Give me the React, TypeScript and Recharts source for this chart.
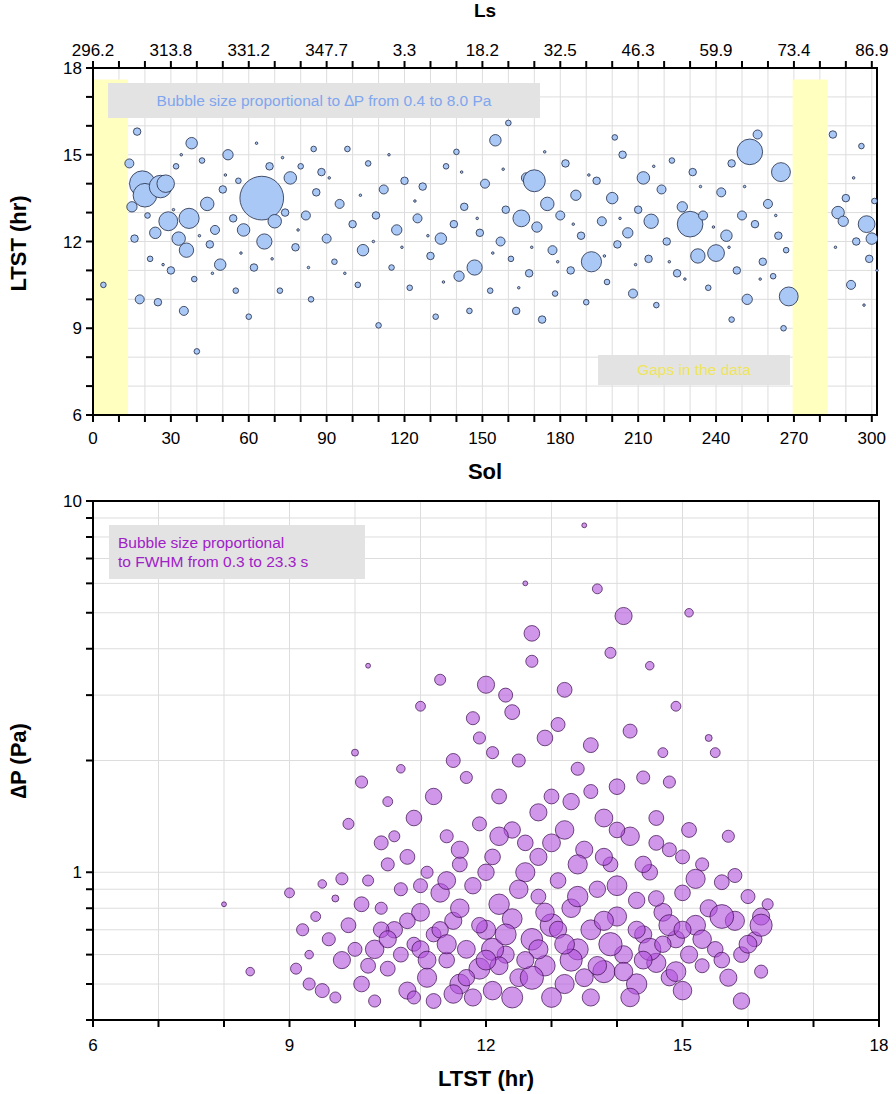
import React from 'react';
import { CartesianGrid, ReferenceArea, Scatter, ScatterChart, XAxis, YAxis, ZAxis } from 'recharts';

// top panel: [sol, LTST, dP]
const solEvents: [number, number, number][] = [
  [4, 10.5, 0.5], [14, 14.7, 0.7], [15, 13.2, 0.8], [16, 12.1, 0.6], [17, 15.8, 0.6], [18, 10.0, 0.7],
  [19, 14.0, 3.0], [20, 13.6, 2.6], [22, 11.4, 0.5], [24, 12.3, 0.9], [26, 13.9, 2.4], [28, 14.0, 1.6],
  [29, 12.7, 1.8], [30, 11.0, 0.6], [32, 14.6, 0.5], [33, 12.1, 1.1], [35, 9.6, 0.7], [36, 11.7, 1.2],
  [37, 12.8, 2.0], [38, 15.4, 0.9], [39, 10.7, 0.5], [40, 8.2, 0.5], [42, 14.8, 0.5], [44, 13.3, 1.1],
  [45, 11.9, 0.6], [47, 12.4, 0.7], [49, 11.2, 0.9], [50, 13.8, 0.6], [52, 15.0, 0.8], [54, 12.8, 0.6],
  [56, 14.1, 0.5], [58, 12.4, 1.0], [60, 9.4, 0.5], [62, 11.1, 0.6], [65, 13.5, 8.0], [66, 12.0, 1.3],
  [68, 14.6, 0.6], [70, 12.7, 1.1], [72, 10.3, 0.5], [74, 13.0, 0.6], [76, 14.2, 1.0], [78, 11.8, 0.6],
  [80, 14.6, 0.5], [82, 12.9, 0.7], [84, 10.0, 0.5], [86, 13.7, 0.6], [88, 14.4, 0.6], [90, 12.1, 0.7],
  [93, 11.3, 0.5], [95, 13.3, 0.7], [98, 15.2, 0.5], [100, 12.6, 0.6], [102, 10.5, 0.5], [104, 11.7, 0.9],
  [106, 14.7, 0.5], [109, 12.9, 0.6], [112, 13.8, 0.7], [115, 11.1, 0.5], [117, 12.4, 0.8], [120, 14.1, 0.6],
  [122, 10.4, 0.5], [125, 12.8, 0.7], [127, 13.9, 0.6], [130, 11.5, 0.6], [132, 9.4, 0.5], [134, 12.1, 0.9],
  [136, 14.6, 0.5], [139, 12.6, 0.6], [141, 10.8, 0.8], [143, 13.2, 0.6], [145, 9.6, 0.5], [147, 11.1, 1.3],
  [149, 12.3, 0.6], [151, 14.0, 0.7], [153, 10.3, 0.5], [155, 15.5, 0.9], [157, 12.0, 0.7], [159, 13.1, 0.6],
  [161, 11.4, 0.5], [163, 9.6, 0.6], [165, 12.8, 1.5], [167, 14.2, 0.8], [168, 10.9, 0.6], [170, 14.1, 2.3],
  [171, 12.5, 0.8], [173, 9.3, 0.6], [175, 13.3, 1.1], [177, 11.7, 0.7], [178, 10.2, 0.5], [180, 12.9, 0.7],
  [182, 14.7, 0.6], [184, 11.0, 0.6], [186, 13.6, 0.8], [188, 12.2, 0.6], [190, 9.9, 0.5], [192, 11.3, 2.0],
  [194, 14.1, 0.6], [196, 12.7, 0.7], [198, 10.6, 0.5], [200, 13.5, 0.9], [202, 11.9, 0.6], [204, 15.0, 0.6],
  [206, 12.3, 0.8], [208, 10.2, 0.7], [210, 13.1, 0.6], [212, 14.2, 1.0], [214, 11.4, 0.6], [215, 12.7, 1.2],
  [217, 9.8, 0.5], [219, 13.8, 0.7], [221, 12.0, 0.6], [223, 14.8, 0.5], [225, 10.9, 0.6], [227, 13.2, 0.8],
  [230, 12.6, 3.0], [231, 14.4, 0.6], [233, 11.5, 1.2], [235, 12.9, 0.7], [237, 10.4, 0.5], [240, 11.6, 1.5],
  [242, 13.7, 0.7], [244, 12.2, 0.9], [246, 14.7, 0.6], [248, 11.0, 0.6], [250, 12.9, 0.7], [252, 10.0, 0.8],
  [253, 15.1, 3.0], [255, 12.6, 0.6], [256, 15.7, 0.7], [258, 11.3, 0.6], [260, 13.3, 0.7], [262, 10.8, 0.5],
  [264, 12.2, 0.6], [265, 14.4, 1.8], [267, 11.7, 0.5], [268, 10.1, 1.8], [266, 9.0, 0.5], [285, 15.7, 0.6],
  [287, 13.0, 1.0], [289, 12.7, 0.8], [290, 13.5, 0.6], [292, 10.5, 0.7], [294, 12.0, 0.6], [296, 15.3, 0.5],
  [298, 12.6, 1.5], [299, 11.4, 0.6], [300, 12.1, 0.9], [301, 13.4, 0.5], [160, 16.1, 0.5], [110, 9.1, 0.5],
  [55, 10.3, 0.5], [25, 9.9, 0.6], [140, 15.1, 0.5], [246, 9.3, 0.5], [201, 15.6, 0.5], [85, 15.2, 0.5],
  [21, 12.9, 0.5], [27, 11.2, 0.4], [31, 13.1, 0.4], [34, 15.0, 0.4], [41, 12.2, 0.4], [46, 10.9, 0.4],
  [51, 14.3, 0.4], [57, 11.6, 0.4], [63, 15.4, 0.4], [69, 11.4, 0.4], [73, 14.9, 0.4], [79, 12.4, 0.4],
  [83, 11.1, 0.4], [91, 14.2, 0.4], [97, 10.9, 0.4], [103, 13.6, 0.4], [108, 12.0, 0.4], [114, 15.0, 0.4],
  [119, 11.8, 0.4], [124, 13.4, 0.4], [129, 12.2, 0.4], [135, 10.6, 0.4], [142, 14.4, 0.4], [148, 12.8, 0.4],
  [154, 11.6, 0.4], [158, 14.5, 0.4], [164, 10.4, 0.4], [169, 11.8, 0.4], [174, 15.1, 0.4], [179, 11.3, 0.4],
  [185, 12.6, 0.4], [191, 14.3, 0.4], [197, 11.5, 0.4], [203, 12.8, 0.4], [209, 11.2, 0.4], [216, 14.6, 0.4],
  [222, 11.3, 0.4], [228, 10.7, 0.4], [234, 13.9, 0.4], [239, 12.5, 0.4], [245, 11.8, 0.4], [251, 13.9, 0.4],
  [257, 10.7, 0.4], [263, 12.9, 0.4], [286, 11.8, 0.4], [293, 14.2, 0.4], [297, 9.8, 0.4], [302, 11.0, 0.4],
];

// bottom panel: [LTST, dP, FWHM]
const ltstEvents: [number, number, number][] = [
  [8.0, 0.82, 1], [8.4, 0.54, 3], [9.0, 0.88, 4], [9.1, 0.55, 5], [9.2, 0.70, 6], [9.3, 0.60, 3], [9.4, 0.76, 4],
  [9.5, 0.48, 8], [9.6, 0.66, 7], [9.7, 0.85, 2], [9.8, 0.58, 12], [9.9, 1.35, 5], [9.9, 0.72, 9], [10.0, 2.1, 2],
  [10.1, 1.75, 6], [10.1, 0.50, 10], [10.2, 0.95, 5], [10.2, 3.6, 1], [10.3, 0.62, 14], [10.4, 1.2, 8], [10.4, 0.80, 6],
  [10.5, 0.55, 9], [10.5, 1.55, 4], [10.6, 0.70, 11], [10.7, 0.90, 7], [10.7, 1.9, 3], [10.8, 0.48, 12], [10.8, 1.1, 9],
  [10.9, 0.64, 8], [10.9, 1.4, 10], [11.0, 0.78, 13], [11.0, 2.8, 4], [11.1, 0.52, 15], [11.1, 1.0, 6], [11.2, 1.6, 11],
  [11.2, 0.68, 9], [11.3, 3.3, 5], [11.3, 0.88, 14], [11.4, 0.58, 10], [11.4, 1.25, 7], [11.5, 2.0, 8], [11.5, 0.74, 12],
  [11.6, 0.50, 16], [11.6, 1.05, 9], [11.7, 1.8, 6], [11.7, 0.62, 13], [11.8, 2.6, 7], [11.8, 0.92, 11], [11.9, 0.55, 18],
  [11.9, 1.35, 8], [12.0, 3.2, 12], [12.0, 0.70, 15], [12.1, 1.1, 10], [12.1, 0.48, 14], [12.1, 2.1, 6], [12.2, 0.82, 17],
  [12.2, 1.6, 9], [12.3, 0.60, 12], [12.3, 3.0, 8], [12.4, 1.3, 11], [12.4, 0.75, 16], [12.5, 2.0, 7], [12.5, 0.52, 13],
  [12.6, 1.0, 15], [12.6, 6.0, 1], [12.7, 4.4, 10], [12.7, 0.66, 19], [12.7, 3.7, 6], [12.8, 1.45, 12], [12.8, 0.86, 9],
  [12.9, 2.3, 10], [12.9, 0.56, 17], [13.0, 1.2, 13], [13.0, 0.72, 21], [13.1, 2.5, 8], [13.1, 0.95, 10], [13.2, 3.1, 9],
  [13.2, 0.50, 15], [13.3, 1.55, 11], [13.3, 0.80, 14], [13.4, 1.9, 7], [13.4, 0.62, 18], [13.5, 8.6, 1], [13.5, 1.15, 12],
  [13.6, 0.70, 16], [13.6, 2.2, 9], [13.7, 5.8, 4], [13.7, 0.90, 11], [13.8, 1.4, 13], [13.8, 0.54, 20], [13.9, 3.9, 5],
  [13.9, 1.05, 9], [14.0, 0.76, 15], [14.0, 1.7, 10], [14.1, 4.9, 12], [14.1, 0.60, 13], [14.2, 2.4, 8], [14.2, 1.25, 14],
  [14.3, 0.84, 11], [14.3, 0.50, 17], [14.4, 1.8, 7], [14.4, 0.68, 12], [14.5, 3.6, 3], [14.5, 1.0, 10], [14.6, 0.57, 15],
  [14.6, 1.4, 9], [14.7, 0.78, 13], [14.7, 2.1, 4], [14.8, 0.52, 11], [14.8, 1.15, 8], [14.9, 2.8, 4], [14.9, 0.66, 12],
  [15.0, 0.88, 10], [15.0, 0.48, 14], [15.1, 1.3, 9], [15.1, 5.0, 3], [15.2, 0.72, 16], [15.3, 0.56, 8], [15.3, 1.05, 7],
  [15.4, 2.3, 2], [15.4, 0.80, 12], [15.5, 0.62, 10], [15.5, 2.1, 4], [15.6, 0.94, 9], [15.7, 0.52, 12], [15.7, 1.25, 6],
  [15.8, 0.74, 15], [15.9, 0.60, 10], [15.9, 0.45, 11], [16.0, 0.86, 8], [16.1, 0.66, 9], [16.2, 0.76, 12], [16.2, 0.54, 7],
  [16.3, 0.82, 5], [15.8, 0.98, 8], [9.3, 0.50, 6], [9.5, 0.93, 3], [9.7, 0.46, 5], [10.0, 0.62, 8], [10.3, 0.45, 6],
  [10.6, 1.25, 5], [10.9, 0.46, 7], [11.2, 0.45, 9], [11.5, 0.47, 14], [11.8, 0.46, 12], [12.1, 0.62, 20], [12.4, 0.46, 18],
  [12.7, 0.52, 22], [13.0, 0.46, 16], [13.3, 0.58, 20], [13.6, 0.46, 12], [13.9, 0.64, 22], [14.2, 0.46, 14], [14.5, 0.62, 20],
  [14.8, 0.72, 18], [15.1, 0.60, 12], [15.6, 0.76, 23], [16.2, 0.72, 20], [10.4, 0.70, 10], [10.7, 0.60, 9], [11.0, 0.62, 12],
  [11.3, 0.70, 11], [11.6, 0.80, 14], [11.9, 0.72, 10], [12.2, 0.56, 13], [12.5, 0.90, 14], [12.8, 0.62, 15], [13.1, 0.70, 12],
  [13.4, 0.86, 17], [13.7, 0.56, 14], [14.0, 0.92, 16], [14.3, 0.70, 12], [14.6, 0.85, 10], [14.9, 0.54, 16], [15.2, 0.96, 15],
  [11.4, 0.95, 13], [12.0, 1.0, 11], [12.6, 1.2, 10], [13.2, 1.3, 14], [13.8, 1.1, 12], [14.4, 1.05, 11], [15.0, 1.1, 8],
  [10.2, 0.56, 9], [10.5, 0.66, 12], [10.8, 0.74, 10], [11.1, 0.58, 13], [11.4, 0.64, 15], [11.7, 0.52, 11], [12.0, 0.58, 16],
  [12.3, 0.68, 18], [12.6, 0.58, 12], [12.9, 0.78, 14], [13.2, 0.64, 16], [13.5, 0.52, 13], [13.8, 0.74, 15], [14.1, 0.54, 14],
  [14.4, 0.58, 13], [14.7, 0.64, 11], [15.0, 0.70, 12], [15.3, 0.66, 14], [15.6, 0.58, 10], [16.0, 0.64, 13], [11.0, 0.92, 8],
  [11.6, 1.15, 12], [12.2, 1.25, 14], [12.8, 1.1, 12], [13.4, 1.05, 15], [14.0, 1.3, 10], [14.6, 1.2, 9], [13.0, 1.6, 9],
  [12.4, 2.7, 9], [11.9, 2.3, 6], [13.6, 1.65, 8], [14.8, 1.75, 6], [10.5, 1.05, 7], [10.1, 0.82, 9], [9.8, 0.96, 6],
];

const solTicks = Array.from({ length: 31 }, (_, i) => i * 10);
const lsLabels: Record<number, string> = {
  0: '296.2', 30: '313.8', 60: '331.2', 90: '347.7', 120: '3.3', 150: '18.2',
  180: '32.5', 210: '46.3', 240: '59.9', 270: '73.4', 300: '86.9',
};
const hrTicks = [6, 7, 8, 9, 10, 11, 12, 13, 14, 15, 16, 17, 18];
const ltstTicks = [6, 7, 8, 9, 10, 11, 12, 13, 14, 15, 16, 17, 18];
const dpTicks = [0.4, 0.5, 0.6, 0.7, 0.8, 0.9, 1, 2, 3, 4, 5, 6, 7, 8, 9, 10];

const topData = solEvents.map(([sol, hr, dp]) => ({ sol, hr, dp }));
const bottomData = ltstEvents.map(([hr, dp, fwhm]) => ({ hr, dp, fwhm }));

const font = '"Liberation Sans", Arial, sans-serif';
const tickStyle = { fill: '#000', fontSize: 17, fontFamily: font };
const axisLine = { stroke: '#000', strokeWidth: 2 };
const tickLine = { stroke: '#000', strokeWidth: 2 };
const titleStyle = { fontSize: 22, fontWeight: 'bold', fill: '#000', fontFamily: font };
const noShape = () => null;

export default function App() {
  return (
    <div style={{ position: 'absolute', left: 0, top: 0, width: 896, height: 1094, background: '#fff', fontFamily: font }}>
      <ScatterChart width={896} height={485} margin={{ top: 0, right: 18, bottom: 0, left: 0 }}>
        <CartesianGrid xAxisId="b" yAxisId="l" stroke="#ddd" verticalValues={solTicks} horizontalValues={hrTicks} />
        <ReferenceArea xAxisId="b" yAxisId="l" x1={0} x2={13.5} y1={6} y2={17.6} fill="#ffffc0" fillOpacity={1} stroke="none" />
        <ReferenceArea xAxisId="b" yAxisId="l" x1={269.5} x2={283} y1={6} y2={17.6} fill="#ffffc0" fillOpacity={1} stroke="none" />
        <ReferenceArea xAxisId="b" yAxisId="l" x1={0} x2={302} y1={6} y2={18} fill="none" stroke="#000" strokeWidth={2} />
        <XAxis xAxisId="b" type="number" dataKey="sol" domain={[0, 302]} ticks={solTicks} interval={0}
          tickFormatter={(v: number) => (v % 30 === 0 ? String(v) : '')} tick={tickStyle} height={70}
          axisLine={axisLine} tickLine={tickLine} tickSize={7} tickMargin={10}
          label={{ value: 'Sol', position: 'insideBottom', offset: 6, style: titleStyle }} />
        <XAxis xAxisId="t" orientation="top" type="number" dataKey="sol" domain={[0, 302]} ticks={solTicks} interval={0}
          tickFormatter={(v: number) => lsLabels[v] ?? ''} tick={tickStyle} height={68}
          axisLine={axisLine} tickLine={tickLine} tickSize={7} tickMargin={5}
          label={{ value: 'Ls', position: 'insideTop', offset: 4, style: { ...titleStyle, fontSize: 19 } }} />
        <YAxis yAxisId="l" type="number" dataKey="hr" domain={[6, 18]} ticks={hrTicks} interval={0}
          tickFormatter={(v: number) => (v % 3 === 0 ? String(v) : '')} tick={tickStyle} width={93}
          axisLine={axisLine} tickLine={tickLine} tickSize={7} tickMargin={4}
          label={{ value: 'LTST (hr)', angle: -90, position: 'insideLeft', offset: 18, dy: 50, style: titleStyle }} />
        <YAxis yAxisId="r" orientation="right" type="number" dataKey="hr" domain={[6, 18]} ticks={hrTicks} interval={0}
          tick={false} width={1} axisLine={axisLine} tickLine={tickLine} tickSize={7} />
        <ZAxis type="number" dataKey="dp" domain={[0.4, 8]} range={[5, 1500]} />
        <Scatter xAxisId="t" yAxisId="r" data={topData} shape={noShape} isAnimationActive={false} />
        <Scatter xAxisId="b" yAxisId="l" data={topData} fill="#aac8f6" stroke="#1f2a44" strokeWidth={0.8} isAnimationActive={false} />
      </ScatterChart>
      <div style={{ position: 'absolute', left: 108, top: 83, width: 432, height: 35, background: '#e3e3e3', color: '#7fa6ee', fontSize: 15.5, display: 'flex', alignItems: 'center', justifyContent: 'center' }}>
        Bubble size proportional to ∆P from 0.4 to 8.0 Pa
      </div>
      <div style={{ position: 'absolute', left: 598, top: 355, width: 192, height: 30, background: '#e3e3e3', color: '#efe55a', fontSize: 15.5, display: 'flex', alignItems: 'center', justifyContent: 'center' }}>
        Gaps in the data
      </div>
      <div style={{ position: 'absolute', left: 0, top: 485 }}>
        <ScatterChart width={896} height={609} margin={{ top: 15, right: 16, bottom: 0, left: 0 }}>
          <CartesianGrid xAxisId="b" yAxisId="l" stroke="#ddd" verticalValues={ltstTicks} horizontalValues={dpTicks} />
          <ReferenceArea xAxisId="b" yAxisId="l" x1={6} x2={18} y1={0.4} y2={10} fill="none" stroke="#000" strokeWidth={2} />
          <XAxis xAxisId="b" type="number" dataKey="hr" domain={[6, 18]} ticks={ltstTicks} interval={0}
            tickFormatter={(v: number) => (v % 3 === 0 ? String(v) : '')} tick={tickStyle} height={74}
            axisLine={axisLine} tickLine={tickLine} tickSize={7} tickMargin={12}
            label={{ value: 'LTST (hr)', position: 'insideBottom', offset: 8, style: titleStyle }} />
          <XAxis xAxisId="t" orientation="top" type="number" dataKey="hr" domain={[6, 18]} ticks={ltstTicks} interval={0}
            tick={false} height={1} axisLine={axisLine} tickLine={tickLine} tickSize={7} />
          <YAxis yAxisId="l" type="number" dataKey="dp" scale="log" domain={[0.4, 10]} ticks={dpTicks} interval={0}
            tickFormatter={(v: number) => (v === 1 || v === 10 ? String(v) : '')} tick={tickStyle} width={93}
            axisLine={axisLine} tickLine={tickLine} tickSize={7} tickMargin={4} allowDataOverflow
            label={{ value: '∆P (Pa)', angle: -90, position: 'insideLeft', offset: 18, dy: 38, style: titleStyle }} />
          <YAxis yAxisId="r" orientation="right" type="number" dataKey="dp" scale="log" domain={[0.4, 10]} ticks={dpTicks} interval={0}
            tick={false} width={1} axisLine={axisLine} tickLine={tickLine} tickSize={7} allowDataOverflow />
          <ZAxis type="number" dataKey="fwhm" domain={[0.3, 23.3]} range={[5, 450]} />
          <Scatter xAxisId="t" yAxisId="r" data={bottomData} shape={noShape} isAnimationActive={false} />
          <Scatter xAxisId="b" yAxisId="l" data={bottomData} fill="#b050dc" fillOpacity={0.6} stroke="#3a0a4a" strokeWidth={0.7} isAnimationActive={false} />
        </ScatterChart>
        <div style={{ position: 'absolute', left: 109, top: 40, width: 256, height: 54, background: '#e3e3e3', color: '#a020c8', fontSize: 15.5, lineHeight: '19px', display: 'flex', flexDirection: 'column', justifyContent: 'center', paddingLeft: 9, boxSizing: 'border-box' }}>
          <div>Bubble size proportional</div>
          <div>to FWHM from 0.3 to 23.3 s</div>
        </div>
      </div>
    </div>
  );
}
